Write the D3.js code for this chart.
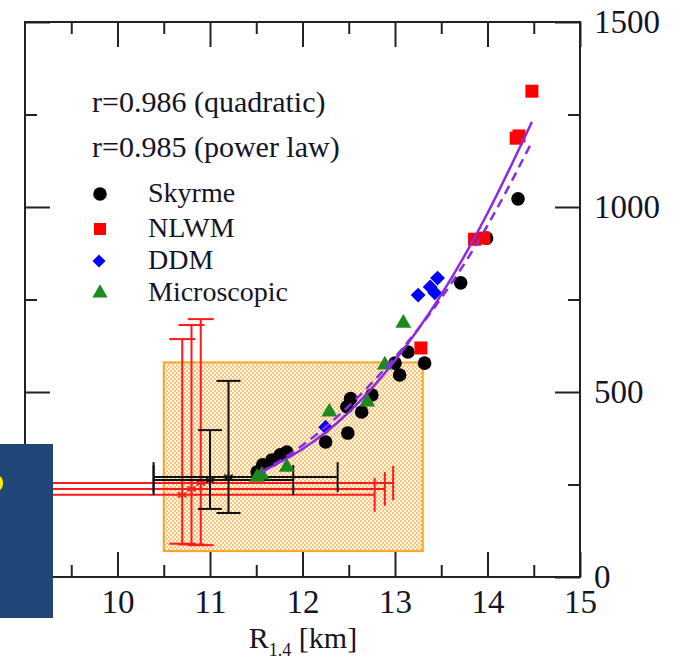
<!DOCTYPE html>
<html>
<head>
<meta charset="utf-8">
<script src="https://cdn.jsdelivr.net/npm/d3@7"></script>
<style>
  body { margin: 0; background: #fff; }
  svg { display: block; }
  svg text { font-family: 'Liberation Serif', 'Times New Roman', Times, 'DejaVu Serif', serif !important; fill: #141428; }
</style>
</head>
<body>
<div class="canvas"></div>
<script>
// points: [R_1.4 km, value]
var skyrme = [[11.51,284],[11.57,303],[11.67,316],[11.76,330],[11.83,338],[12.25,365],[12.49,389],
              [12.48,460],[12.52,482],[12.64,446],[12.75,492],[13.0,578],[13.05,546],[13.14,608],
              [13.32,578],[13.71,795],[13.99,916],[14.33,1022]];
var nlwm = [[13.28,619],[13.86,913],[13.96,916],[14.31,1186],[14.34,1192],[14.48,1313]];
var ddm = [[12.25,405],[13.25,762],[13.38,784],[13.46,808],[13.43,768]];
var micro = [[11.51,270],[11.56,276],[11.83,297],[12.29,446],[12.70,473],[12.89,573],[13.09,686]];

// fit curves, read at a few x values
var fitX = [11.55, 12.0, 12.5, 13.0, 13.5, 14.0, 14.48];
var quadY = [283, 346, 445, 585, 763, 983, 1230];
var powY = [283, 356, 462, 594, 754, 950, 1176];

// observational constraints: x, y, xlo, xhi, ylo, yhi
var redObs = [[10.7,222,9.25,12.78,90,643],[10.8,238,9.25,12.89,88,681],[10.9,254,9.25,12.98,86,697]];
var blackObs = [[11.0,262,10.39,11.9,184,397],[11.2,270,10.39,12.38,173,530]];

var box = {x0: 10.5, x1: 13.3, y0: 70, y1: 580};

var xMajor = [10, 11, 12, 13, 14, 15];
var xMinor = [9.5, 10.5, 11.5, 12.5, 13.5, 14.5];
var yMajor = [0, 500, 1000, 1500];
var yMinor = [250, 750, 1250];

var legendItems = ['Skyrme', 'NLWM', 'DDM', 'Microscopic'];
var fitTexts = ['r=0.986 (quadratic)', 'r=0.985 (power law)'];

var serif = "'Liberation Serif', 'Times New Roman', Times, serif";
var width = 679, height = 662;
var svg = d3.select('.canvas').append('svg').attr('width', width).attr('height', height)
  .attr('font-family', serif);

var x = d3.scaleLinear().domain([9, 15]).range([25, 580]);
var y = d3.scaleLinear().domain([0, 1500]).range([577, 22]);

var defs = svg.append('defs');
var pat = defs.append('pattern').attr('id', 'dots').attr('patternUnits', 'userSpaceOnUse')
  .attr('width', 4).attr('height', 4);
pat.append('rect').attr('width', 4).attr('height', 4).attr('fill', '#fff6e6');
pat.append('circle').attr('cx', 1).attr('cy', 1).attr('r', 0.9).attr('fill', '#f6ae50');
pat.append('circle').attr('cx', 3).attr('cy', 3).attr('r', 0.9).attr('fill', '#f6ae50');

defs.append('clipPath').attr('id', 'plotclip').append('rect')
  .attr('x', 25).attr('y', 22).attr('width', 555).attr('height', 555);

// orange region
svg.append('rect')
  .attr('x', x(box.x0)).attr('y', y(box.y1))
  .attr('width', x(box.x1) - x(box.x0)).attr('height', y(box.y0) - y(box.y1))
  .attr('fill', 'url(#dots)').attr('stroke', '#f5a623').attr('stroke-width', 2);

var plot = svg.append('g').attr('clip-path', 'url(#plotclip)');

function errorBars(g, data, color, capX, capY) {
  data.forEach(function(d) {
    var cx = x(d[0]), cy = y(d[1]);
    var gg = g.append('g').attr('stroke', color).attr('stroke-width', 2).attr('fill', 'none');
    gg.append('line').attr('x1', x(d[2])).attr('x2', x(d[3])).attr('y1', cy).attr('y2', cy);
    gg.append('line').attr('x1', x(d[2])).attr('x2', x(d[2])).attr('y1', cy - capY).attr('y2', cy + capY);
    gg.append('line').attr('x1', x(d[3])).attr('x2', x(d[3])).attr('y1', cy - capY).attr('y2', cy + capY);
    gg.append('line').attr('x1', cx).attr('x2', cx).attr('y1', y(d[4])).attr('y2', y(d[5]));
    gg.append('line').attr('x1', cx - capX).attr('x2', cx + capX).attr('y1', y(d[4])).attr('y2', y(d[4]));
    gg.append('line').attr('x1', cx - capX).attr('x2', cx + capX).attr('y1', y(d[5])).attr('y2', y(d[5]));
    gg.append('path').attr('transform', 'translate(' + cx + ',' + cy + ')')
      .attr('d', d3.symbol().type(d3.symbolAsterisk).size(70)())
      .attr('stroke-width', 1.5);
  });
}
errorBars(plot, redObs, '#ff1a1a', 13, 17);
errorBars(plot, blackObs, '#111', 12, 15);

// model points
plot.selectAll('.sky').data(skyrme).enter().append('circle')
  .attr('cx', function(d){ return x(d[0]); }).attr('cy', function(d){ return y(d[1]); })
  .attr('r', 6.8).attr('fill', '#000');
plot.selectAll('.nl').data(nlwm).enter().append('rect')
  .attr('x', function(d){ return x(d[0]) - 6.5; }).attr('y', function(d){ return y(d[1]) - 6.5; })
  .attr('width', 13).attr('height', 13).attr('fill', '#ff0000');
plot.selectAll('.dd').data(ddm).enter().append('path')
  .attr('transform', function(d){ return 'translate(' + x(d[0]) + ',' + y(d[1]) + ')'; })
  .attr('d', d3.symbol().type(d3.symbolDiamond2).size(140)()).attr('fill', '#0000ff');
plot.selectAll('.mi').data(micro).enter().append('path')
  .attr('transform', function(d){ return 'translate(' + x(d[0]) + ',' + y(d[1]) + ')'; })
  .attr('d', d3.symbol().type(d3.symbolTriangle).size(110)()).attr('fill', '#1c8a1c');

// fits
var line = d3.line().curve(d3.curveNatural)
  .x(function(d){ return x(d[0]); }).y(function(d){ return y(d[1]); });
plot.append('path').datum(fitX.map(function(v, i){ return [v, powY[i]]; }))
  .attr('d', line).attr('fill', 'none').attr('stroke', '#8a2be2').attr('stroke-width', 2.5)
  .attr('stroke-dasharray', '9,6');
plot.append('path').datum(fitX.map(function(v, i){ return [v, quadY[i]]; }))
  .attr('d', line).attr('fill', 'none').attr('stroke', '#8a2be2').attr('stroke-width', 2.5);

// axes
function tickStyle(g) {
  g.attr('font-family', serif);
  g.select('.domain').remove();
  g.selectAll('line').attr('stroke', '#222').attr('stroke-width', 2);
  g.selectAll('text').attr('font-size', 33).attr('fill', '#141428');
}
svg.append('g').attr('transform', 'translate(0,577)')
  .call(d3.axisBottom(x).tickValues(xMajor).tickSize(-25).tickPadding(13).tickFormat(d3.format('d')))
  .call(tickStyle);
svg.append('g').attr('transform', 'translate(0,577)')
  .call(d3.axisBottom(x).tickValues(xMinor).tickSize(-12).tickFormat('')).call(tickStyle);
svg.append('g').attr('transform', 'translate(0,22)')
  .call(d3.axisTop(x).tickValues(xMajor).tickSize(-25).tickFormat('')).call(tickStyle);
svg.append('g').attr('transform', 'translate(0,22)')
  .call(d3.axisTop(x).tickValues(xMinor).tickSize(-12).tickFormat('')).call(tickStyle);
svg.append('g').attr('transform', 'translate(580,0)')
  .call(d3.axisRight(y).tickValues(yMajor).tickSize(-25).tickPadding(14).tickFormat(d3.format('d')))
  .call(tickStyle);
svg.append('g').attr('transform', 'translate(580,0)')
  .call(d3.axisRight(y).tickValues(yMinor).tickSize(-12).tickFormat('')).call(tickStyle);
svg.append('g').attr('transform', 'translate(25,0)')
  .call(d3.axisLeft(y).tickValues(yMajor).tickSize(-25).tickFormat('')).call(tickStyle);
svg.append('g').attr('transform', 'translate(25,0)')
  .call(d3.axisLeft(y).tickValues(yMinor).tickSize(-12).tickFormat('')).call(tickStyle);

svg.append('rect').attr('x', 25).attr('y', 22).attr('width', 555).attr('height', 555)
  .attr('fill', 'none').attr('stroke', '#222').attr('stroke-width', 2);

// axis title
var title = svg.append('text').attr('x', 303).attr('y', 648).attr('text-anchor', 'middle')
  .attr('font-size', 30);
title.append('tspan').text('R');
title.append('tspan').attr('font-size', 18).attr('dy', 8).text('1.4');
title.append('tspan').attr('dy', -8).text(' [km]');

// legend
svg.selectAll('.fit').data(fitTexts).enter().append('text')
  .attr('x', 92).attr('y', function(d, i){ return 112 + i * 45; })
  .attr('font-size', 30).text(function(d){ return d; });

var legY = [194, 229, 261, 293];
var lg = svg.append('g');
lg.append('circle').attr('cx', 100).attr('cy', legY[0]).attr('r', 6.8).attr('fill', '#000');
lg.append('rect').attr('x', 94).attr('y', legY[1] - 6).attr('width', 12).attr('height', 12).attr('fill', '#ff0000');
lg.append('path').attr('transform', 'translate(99,' + legY[2] + ')')
  .attr('d', d3.symbol().type(d3.symbolDiamond2).size(110)()).attr('fill', '#0000ff');
lg.append('path').attr('transform', 'translate(100,' + legY[3] + ')')
  .attr('d', d3.symbol().type(d3.symbolTriangle).size(100)()).attr('fill', '#1c8a1c');
lg.selectAll('.lab').data(legendItems).enter().append('text')
  .attr('x', 148).attr('y', function(d, i){ return legY[i] + 8; })
  .attr('font-size', 28).text(function(d){ return d; });

// slide overlay box on the left
svg.append('defs').append('clipPath').attr('id', 'boxclip').append('rect')
  .attr('x', 0).attr('y', 444).attr('width', 53).attr('height', 174);
svg.append('rect').attr('x', 0).attr('y', 444).attr('width', 53).attr('height', 174).attr('fill', '#1f4677');
svg.append('ellipse').attr('clip-path', 'url(#boxclip)').attr('cx', -1).attr('cy', 483)
  .attr('rx', 4).attr('ry', 7).attr('fill', '#ffe800');
</script>
</body>
</html>
